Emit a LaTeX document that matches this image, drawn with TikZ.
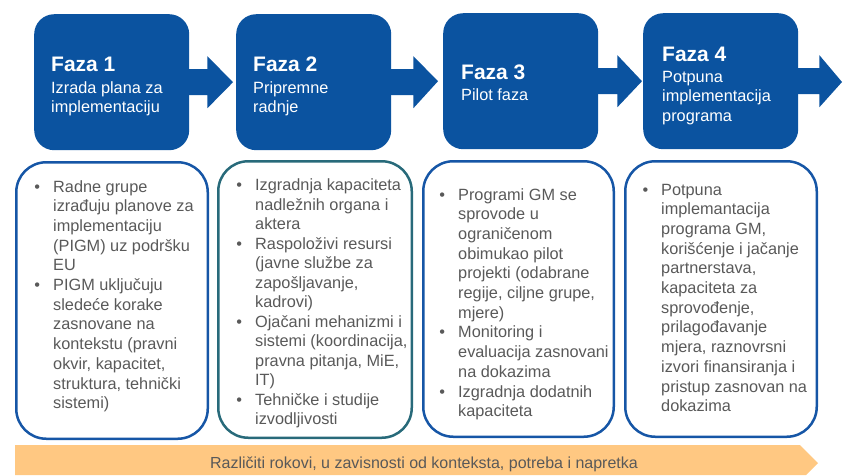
\documentclass[tikz,border=0pt]{standalone}
\usepackage{fontspec}
\setmainfont{Liberation Sans}
\usetikzlibrary{calc}
\definecolor{phaseblue}{RGB}{11,83,160}
\definecolor{listblue}{RGB}{22,86,166}
\definecolor{listteal}{RGB}{40,106,122}
\definecolor{bandorange}{RGB}{255,200,130}
\definecolor{graytext}{RGB}{89,89,89}
\newcommand{\bul}{\llap{\textbullet\hspace{13pt}}}
\begin{document}
\begin{tikzpicture}[x=1pt,y=-1pt,
  phasebox/.style={fill=phaseblue, rounded corners=20pt, minimum width=155pt, minimum height=136pt, inner sep=0pt, anchor=north west},
  titletext/.style={text=white, font=\bfseries\fontsize{21}{24}\selectfont, inner sep=0pt, anchor=base west},
  subtext/.style={text=white, font=\fontsize{16.3}{19.8}\selectfont, inner sep=0pt, anchor=north west, align=left},
  listbox/.style={line width=2.5pt, rounded corners=30pt, inner sep=0pt},
  listtext/.style={text=graytext, font=\fontsize{16.3}{19.7}\selectfont, inner sep=0pt, anchor=north west, align=left},
  arrowfill/.style={fill=phaseblue},
  bandtext/.style={text=graytext, font=\fontsize{16}{19}\selectfont, inner sep=0pt, anchor=base}
]
\useasboundingbox (0,0) rectangle (843,475);

% phase boxes
\node[phasebox] (f1) at (34,14) {};
\node[phasebox] (f2) at (236,14) {};
\node[phasebox] (f3) at (443,13) {};
\node[phasebox] (f4) at (643,13) {};
\coordinate (fend) at (842,82);

% titles
\node[titletext] (f1h) at (51,71) {Faza 1};
\node[subtext] (f1s) at (51,79) {\strut Izrada plana za\\implementaciju};
\node[titletext] (f2h) at (253,71) {Faza 2};
\node[subtext] (f2s) at (253,79) {\strut Pripremne\\radnje};
\node[titletext] (f3h) at (461,79) {Faza 3};
\node[subtext] (f3s) at (461,86) {\strut Pilot faza};
\node[titletext] (f4h) at (662,61) {Faza 4};
\node[subtext] (f4s) at (662,68) {\strut Potpuna\\implementacija\\programa};

% block arrows
\fill[arrowfill] ($(f1.east)+(-1,-13)$) -- ++(19,0) -- ++(0,-13) -- ($(f2.west)+(-3,0)$) -- ($(f1.east)+(18,26)$) -- ++(0,-13) -- ($(f1.east)+(-1,13)$) -- cycle;
\fill[arrowfill] ($(f2.east)+(-1,-13)$) -- ++(23,0) -- ++(0,-13) -- ($(f3.west)+(-5,0)$) -- ($(f2.east)+(22,26)$) -- ++(0,-13) -- ($(f2.east)+(-1,13)$) -- cycle;
\fill[arrowfill] ($(f3.east)+(-1,-13)$) -- ++(20,0) -- ++(0,-13) -- ($(f4.west)+(-1,0)$) -- ($(f3.east)+(19,26)$) -- ++(0,-13) -- ($(f3.east)+(-1,13)$) -- cycle;
\fill[arrowfill] ($(f4.east)+(-1,-13)$) -- ++(22,0) -- ++(0,-13) -- (fend) -- ($(f4.east)+(21,26)$) -- ++(0,-13) -- ($(f4.east)+(-1,13)$) -- cycle;

% list boxes
\node[listbox, draw=listblue, minimum width=191.5pt, minimum height=276.5pt] (l1) at (112,300.5) {};
\node[listbox, draw=listteal, minimum width=193.5pt, minimum height=276.5pt] (l2) at (315,299.5) {};
\node[listbox, draw=listblue, minimum width=190.5pt, minimum height=275.5pt] (l3) at (518.5,299) {};
\node[listbox, draw=listblue, minimum width=191.5pt, minimum height=275.5pt] (l4) at (721,299) {};

\node[listtext] (l1t) at (53,178) {\strut\bul Radne grupe\\izrađuju planove za\\implementaciju\\(PIGM) uz podršku\\EU\\\bul PIGM uključuju\\sledeće korake\\zasnovane na\\kontekstu (pravni\\okvir, kapacitet,\\struktura, tehnički\\sistemi)};
\node[listtext, font=\fontsize{16.3}{19.5}\selectfont] (l2t) at (255,177) {\strut\bul Izgradnja kapaciteta\\nadležnih organa i\\aktera\\\bul Raspoloživi resursi\\(javne službe za\\zapošljavanje,\\kadrovi)\\\bul Ojačani mehanizmi i\\sistemi (koordinacija,\\pravna pitanja, MiE,\\IT)\\\bul Tehničke i studije\\izvodljivosti};
\node[listtext] (l3t) at (458,186) {\strut\bul Programi GM se\\sprovode u\\ograničenom\\obimukao pilot\\projekti (odabrane\\regije, ciljne grupe,\\mjere)\\\bul Monitoring i\\evaluacija zasnovani\\na dokazima\\\bul Izgradnja dodatnih\\kapaciteta};
\node[listtext] (l4t) at (661,181) {\strut\bul Potpuna\\implemantacija\\programa GM,\\korišćenje i jačanje\\partnerstava,\\kapaciteta za\\sprovođenje,\\prilagođavanje\\mjera, raznovrsni\\izvori finansiranja i\\pristup zasnovan na\\dokazima};

% timeline band
\fill[bandorange] (15,445) -- (800,445) -- (818,463) -- (806,475) -- (15,475) -- cycle;
\node[bandtext] (band) at (424,468) {Različiti rokovi, u zavisnosti od konteksta, potreba i napretka};
\end{tikzpicture}
\end{document}
